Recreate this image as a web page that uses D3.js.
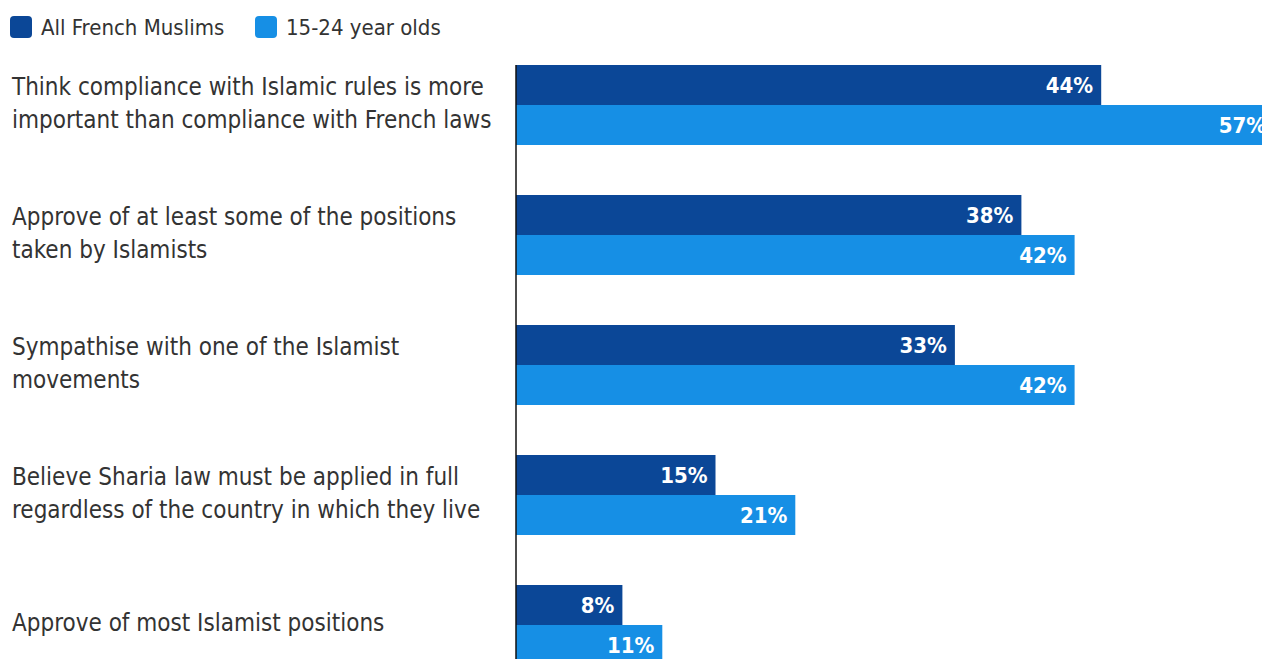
<!DOCTYPE html>
<html>
<head>
<meta charset="utf-8">
<script src="https://cdn.jsdelivr.net/npm/d3@7"></script>
<style>
  body { margin: 0; background: #fff; overflow: hidden; }
  svg { display: block; font-family: "Liberation Sans Narrow", "DejaVu Sans Condensed", sans-serif; }
</style>
</head>
<body>
<svg id="chart"></svg>
<script>
// Données
const categories = [
  "Think compliance with Islamic rules is more\nimportant than compliance with French laws",
  "Approve of at least some of the positions\ntaken by Islamists",
  "Sympathise with one of the Islamist\nmovements",
  "Believe Sharia law must be applied in full\nregardless of the country in which they live",
  "Approve of most Islamist positions"
];
const seriesNames = ["All French Muslims", "15-24 year olds"];
const allMuslims = [44, 38, 33, 15, 8];
const youngAdults = [57, 42, 42, 21, 11];
const colors = ["#0b4797", "#168fe5"];

const width = 1262, height = 659;
const svg = d3.select("#chart").attr("width", width).attr("height", height);

const rows = categories.map((c, i) => ({ cat: c, values: [allMuslims[i], youngAdults[i]] }));

// Échelles
const x = d3.scaleLinear().domain([0, 60]).range([516, 516 + 60 * 13.3]);
const y = d3.scaleBand().domain(categories).range([65, 665]).paddingInner(50 / 130).paddingOuter(0);
const ySub = d3.scaleBand().domain(d3.range(seriesNames.length)).range([0, y.bandwidth()]);

// Légende
const legend = svg.append("g");
const legendX = [10, 255];
seriesNames.forEach((name, i) => {
  legend.append("rect")
    .attr("x", legendX[i]).attr("y", 16)
    .attr("width", 22).attr("height", 22).attr("rx", 4)
    .attr("fill", colors[i]);
  legend.append("text")
    .attr("x", legendX[i] + 31).attr("y", 27)
    .attr("dy", "0.35em")
    .attr("font-size", 22)
    .attr("fill", "#333")
    .text(name);
});

// Groupes
const groups = svg.selectAll("g.row").data(rows).enter()
  .append("g").attr("class", "row")
  .attr("transform", d => `translate(0,${y(d.cat)})`);

groups.selectAll("rect").data(d => d.values).enter()
  .append("rect")
  .attr("x", x(0))
  .attr("y", (v, i) => ySub(i))
  .attr("width", v => x(v) - x(0))
  .attr("height", ySub.bandwidth())
  .attr("fill", (v, i) => colors[i]);

groups.selectAll("text.value").data(d => d.values).enter()
  .append("text").attr("class", "value")
  .attr("x", v => x(v) - 8)
  .attr("y", (v, i) => ySub(i) + ySub.bandwidth() / 2)
  .attr("dy", "0.35em")
  .attr("text-anchor", "end")
  .attr("font-size", 22)
  .attr("font-weight", "bold")
  .attr("fill", "#fff")
  .text(v => v + "%");

// Libellés des catégories
groups.each(function (d) {
  const lines = d.cat.split("\n");
  const lineH = 33;
  const mid = y.bandwidth() / 2 - 2;
  const t = d3.select(this).append("text")
    .attr("font-size", 24)
    .attr("fill", "#333");
  lines.forEach((l, k) => {
    t.append("tspan")
      .attr("x", 12)
      .attr("y", mid + (k - (lines.length - 1) / 2) * lineH)
      .attr("dy", "0.35em")
      .text(l);
  });
});

// Axe vertical
svg.append("line")
  .attr("x1", x(0)).attr("x2", x(0))
  .attr("y1", 65).attr("y2", height)
  .attr("stroke", "#111").attr("stroke-width", 1.5);
</script>
</body>
</html>
